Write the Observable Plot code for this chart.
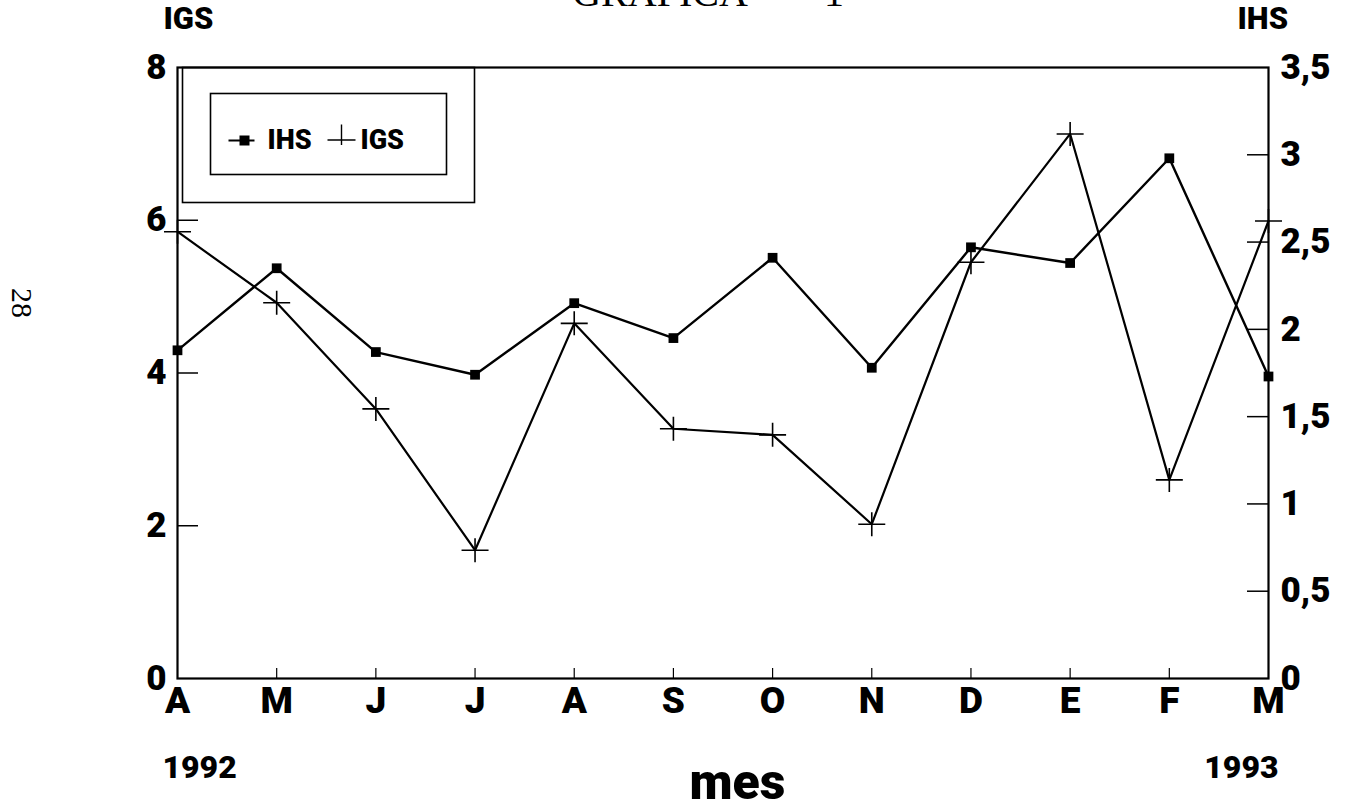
<!DOCTYPE html>
<html><head><meta charset="utf-8">
<script src="https://cdn.jsdelivr.net/npm/d3@7"></script>
<script src="https://cdn.jsdelivr.net/npm/@observablehq/plot@0.6"></script>
<style>
html,body{margin:0;padding:0;background:#fff;}
#chart svg{display:block;}
</style></head><body><div id="chart"></div>
<script>
// ---- data ----
const months = ["A","M","J","J","A","S","O","N","D","E","F","M"];
const ihs = [1.88, 2.35, 1.87, 1.74, 2.15, 1.95, 2.41, 1.78, 2.47, 2.38, 2.98, 1.73];
const igs = [5.85, 4.92, 3.53, 1.68, 4.65, 3.27, 3.19, 2.02, 5.45, 7.13, 2.60, 5.99];
const igsTicks = [0, 2, 4, 6, 8];
const ihsTicks = [0, 0.5, 1, 1.5, 2, 2.5, 3, 3.5];
const years = ["1992", "1993"];
const seriesNames = ["IHS", "IGS"];
const axisTitles = ["IGS", "IHS"];
const xTitle = "mes";
const titleParts = ["GRAFICA", "-", "1"];
const pageNo = "28";

// ---- layout ----
const W = 1346, H = 810, mL = 177, mR = 78, mT = 67, mB = 132;
const plotW = W - mL - mR, plotH = H - mT - mB;
const igsMax = 8, ihsMax = 3.5, k = igsMax / ihsMax;
const data = months.map((m, i) => ({i, m, ihs: ihs[i], igs: igs[i]}));
const font = "Roboto, 'Liberation Sans', Arial, sans-serif";
const serif = "'Liberation Serif', 'DejaVu Serif', serif";
const fmtIHS = d => String(Math.round(d / k * 10) / 10).replace(".", ",");
const fmtIGS = d => String(d);

const crossSym = {draw(ctx, size) {
  const r = Math.sqrt(size / Math.PI);
  ctx.moveTo(-1.35 * r, 0); ctx.lineTo(1.35 * r, 0);
  ctx.moveTo(0, -1.2 * r); ctx.lineTo(0, 1.2 * r);
}};
const legendIHS = {draw(ctx, size) {
  const r = Math.sqrt(size / Math.PI);
  ctx.moveTo(-1.3 * r, 0); ctx.lineTo(1.3 * r, 0);
  ctx.rect(-0.4 * r + 3, -0.4 * r, 0.8 * r, 0.8 * r);
}};
const legendIGS = {draw(ctx, size) {
  const r = Math.sqrt(size / Math.PI);
  ctx.moveTo(-1.4 * r, 0.45 * r); ctx.lineTo(1.4 * r, 0.45 * r);
  ctx.moveTo(0, -1.1 * r); ctx.lineTo(0, 0.95 * r);
}};

const bold = {fontFamily: font, fontWeight: 900, fill: "black"};

const chart = Plot.plot({
  width: W, height: H,
  marginLeft: mL, marginRight: mR, marginTop: mT, marginBottom: mB,
  style: {fontFamily: font, overflow: "visible", background: "white", color: "black"},
  x: {domain: [0, months.length - 1]},
  y: {domain: [0, igsMax]},
  marks: [
    // legend boxes
    Plot.frame({insetLeft: 5, insetRight: plotW - 297, insetTop: 0, insetBottom: plotH - 135, strokeWidth: 1.6}),
    Plot.frame({insetLeft: 33, insetRight: plotW - 269, insetTop: 26, insetBottom: plotH - 107, strokeWidth: 1.6}),
    Plot.dot([seriesNames[0]], {frameAnchor: "top-left", dx: 64, dy: 73, r: 10, symbol: legendIHS, fill: "black", stroke: "black", strokeWidth: 2}),
    Plot.text([seriesNames[0]], {frameAnchor: "top-left", text: d => d, textAnchor: "start", lineAnchor: "middle", dx: 90, dy: 73, fontSize: 27, ...bold}),
    Plot.dot([seriesNames[1]], {frameAnchor: "top-left", dx: 164, dy: 68, r: 10, symbol: legendIGS, fill: "none", stroke: "black", strokeWidth: 1.4}),
    Plot.text([seriesNames[1]], {frameAnchor: "top-left", text: d => d, textAnchor: "start", lineAnchor: "middle", dx: 183, dy: 73, fontSize: 27, ...bold}),

    // inward ticks
    Plot.tickY(igsTicks.slice(1, -1), {y: d => d, insetRight: plotW - 21, strokeWidth: 1.5}),
    Plot.tickY(ihsTicks.slice(1, -1), {y: d => d * k, insetLeft: plotW - 21, strokeWidth: 1.5}),
    Plot.tickX(d3.range(1, months.length - 1), {x: d => d, insetTop: plotH - 10, strokeWidth: 1.2}),

    // axes labels
    Plot.axisY(igsTicks, {anchor: "left", tickSize: 0, tickPadding: 11, tickFormat: fmtIGS, fontSize: 35, label: null, ...bold}),
    Plot.axisY(ihsTicks.map(d => d * k), {anchor: "right", tickSize: 0, tickPadding: 12, tickFormat: fmtIHS, fontSize: 35, label: null, ...bold}),
    Plot.axisX(d3.range(months.length), {anchor: "bottom", tickSize: 0, tickPadding: 8, tickFormat: i => months[i], fontSize: 37, label: null, ...bold}),

    // series
    Plot.line(data, {x: "i", y: "igs", stroke: "black", strokeWidth: 2.2}),
    Plot.line(data, {x: "i", y: d => d.ihs * k, stroke: "black", strokeWidth: 2.4}),
    Plot.dot(data, {x: "i", y: "igs", r: 10, symbol: crossSym, fill: "none", stroke: "black", strokeWidth: 1.6}),
    Plot.dot(data, {x: "i", y: d => d.ihs * k, r: 5.5, symbol: "square", fill: "black", stroke: "none"}),

    Plot.frame({strokeWidth: 2.2}),

    // axis titles & annotations
    Plot.text([axisTitles[0]], {frameAnchor: "top-left", text: d => d, textAnchor: "start", lineAnchor: "middle", dx: -14, dy: -48, fontSize: 31, ...bold}),
    Plot.text([axisTitles[1]], {frameAnchor: "top-right", text: d => d, textAnchor: "start", lineAnchor: "middle", dx: -31, dy: -48, fontSize: 31, ...bold}),
    Plot.text([years[0]], {frameAnchor: "bottom-left", text: d => d, textAnchor: "start", lineAnchor: "middle", dx: -15, dy: 89, fontSize: 32, ...bold}),
    Plot.text([years[1]], {frameAnchor: "bottom-right", text: d => d, textAnchor: "end", lineAnchor: "middle", dx: 10, dy: 89, fontSize: 32, ...bold}),
    Plot.text([xTitle], {frameAnchor: "bottom", text: d => d, textAnchor: "middle", lineAnchor: "middle", dx: 14.5, dy: 104, fontSize: 50, ...bold}),
    Plot.text([titleParts[0]], {frameAnchor: "top", text: d => d, textAnchor: "middle", lineAnchor: "middle", dx: -63, dy: -74, fontSize: 40, fontFamily: serif, letterSpacing: 6, fill: "black"}),
    Plot.text([titleParts[1]], {frameAnchor: "top", text: d => d, textAnchor: "middle", lineAnchor: "middle", dx: 72, dy: -80, fontSize: 40, fontFamily: serif, fill: "black"}),
    Plot.text([titleParts[2]], {frameAnchor: "top", text: d => d, textAnchor: "middle", lineAnchor: "middle", dx: 111, dy: -74, fontSize: 40, fontFamily: serif, fill: "black"}),
    Plot.text([pageNo], {frameAnchor: "left", text: d => d, textAnchor: "middle", lineAnchor: "middle", dx: -156, dy: -70, rotate: 90, fontSize: 30, fontFamily: serif, fill: "black"})
  ]
});
document.getElementById("chart").appendChild(chart);
</script>
</body></html>
